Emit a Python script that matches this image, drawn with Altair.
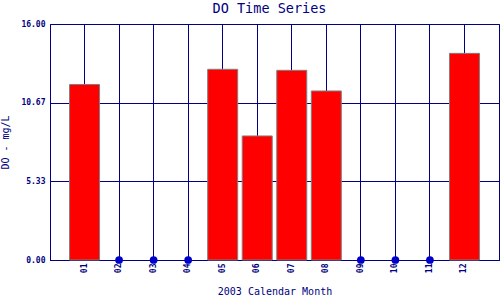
import altair as alt
import pandas as pd

months = ["01", "02", "03", "04", "05", "06", "07", "08", "09", "10", "11", "12"]
do_values = [11.9, None, None, None, 12.93, 8.41, 12.86, 11.46, None, None, None, 14.01]
y_ticks = [0, 16 / 3, 32 / 3, 16]

df = pd.DataFrame({
    "month": months,
    "value": [v if v is not None else 0 for v in do_values],
    "missing": [v is None for v in do_values],
})

NAVY = "#000080"
FONT = "DejaVu Sans Mono"

x_enc = alt.X(
    "month:N",
    sort=months,
    scale=alt.Scale(paddingInner=0, paddingOuter=0.5),
    axis=alt.Axis(
        title="2003 Calendar Month",
        labelAngle=270,
        labelAlign="right",
        labelBaseline="middle",
        labelPadding=3,
        labelFontSize=8,
        labelFontWeight="bold",
        ticks=False,
        grid=True,
        bandPosition=0.5,
        titlePadding=14,
        titleFontSize=10,
        titleFontWeight="normal",
    ),
)
y_enc = alt.Y(
    "value:Q",
    scale=alt.Scale(domain=[0, 16], nice=False, zero=True),
    axis=alt.Axis(
        title="DO - mg/L",
        values=y_ticks,
        format=".2f",
        ticks=False,
        grid=True,
        labelPadding=5,
        labelFontSize=8,
        labelFontWeight="bold",
        titlePadding=10,
        titleFontSize=10,
        titleFontWeight="normal",
    ),
)

base = alt.Chart(df)

bars = base.transform_filter("!datum.missing").mark_bar(
    size=30, color="#ff0000", stroke="#808080", strokeWidth=1
).encode(x=x_enc, y=y_enc)

dots = base.transform_filter("datum.missing").mark_circle(
    size=60, color="#0000cc", opacity=1
).encode(x=x_enc, y=y_enc)

chart = (
    alt.layer(bars, dots)
    .properties(
        width=449,
        height=236,
        background="white",
        autosize=alt.AutoSizeParams(type="none"),
        padding={"left": 50, "top": 24, "right": 1, "bottom": 40},
        title=alt.TitleParams(
            "DO Time Series", fontSize=13.5, font=FONT, color=NAVY,
            fontWeight="normal", offset=5, dx=-5,
        ),
    )
    .configure_view(stroke=NAVY, strokeWidth=1)
    .configure_axis(
        domainColor=NAVY,
        gridColor=NAVY,
        gridOpacity=1,
        gridWidth=1,
        labelColor=NAVY,
        titleColor=NAVY,
        labelFont=FONT,
        titleFont=FONT,
    )
)

chart.save("out.html", embed_options={"renderer": "svg", "actions": False})
